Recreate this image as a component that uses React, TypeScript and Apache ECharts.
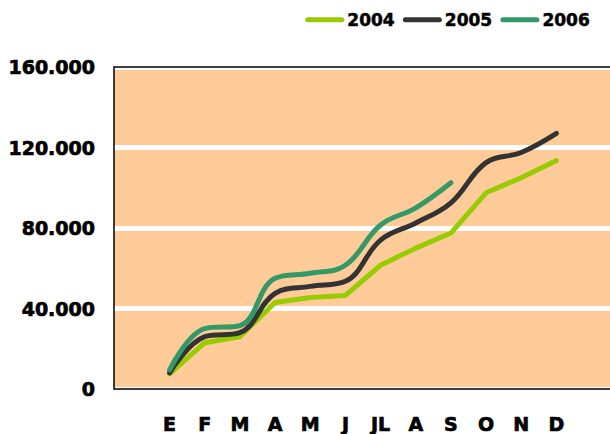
import React, { useEffect, useRef } from "react";
import * as echarts from "echarts";

const months = ["E", "F", "M", "A", "M", "J", "JL", "A", "S", "O", "N", "D"];
const s2004 = [7500, 23000, 26000, 43000, 45500, 46500, 61500, 70000, 77500, 97500, 105000, 113500];
const s2005 = [8000, 26000, 28000, 47500, 51000, 53500, 74000, 82500, 92500, 112500, 117500, 127000];
const s2006 = [9500, 30000, 31500, 55000, 57500, 61500, 81500, 90000, 102500];
const yTicks = [0, 40000, 80000, 120000, 160000];

const FONT = "DejaVu Sans";

function fmt(v: number): string {
  if (v === 0) return "0";
  const s = String(Math.round(v));
  return s.replace(/\B(?=(\d{3})+(?!\d))/g, ".");
}

export default function App() {
  const ref = useRef<HTMLDivElement>(null);
  useEffect(() => {
    if (!ref.current) return;
    const chart = echarts.init(ref.current, undefined, { renderer: "svg" });
    const capsule = "path://M2.5,0 H36.5 A2.5,2.5 0 0 1 36.5,5 H2.5 A2.5,2.5 0 0 1 2.5,0 Z";
    const heavy = { textBorderColor: "#000", textBorderWidth: 0.7 };
    const mkSeries = (name: string, data: number[], color: string, smooth: number | boolean) => ({
      name,
      type: "line",
      xAxisIndex: 1,
      yAxisIndex: 1,
      data,
      smooth,
      showSymbol: false,
      symbol: "none",
      lineStyle: { color, width: 5, cap: "round", join: "round" },
      itemStyle: { color },
    });
    chart.setOption({
      animation: false,
      backgroundColor: "#ffffff",
      legend: {
        top: 6,
        right: 15,
        itemWidth: 39,
        itemHeight: 5,
        itemGap: 8,
        icon: capsule,
        textStyle: {
          fontFamily: FONT,
          fontWeight: "bold",
          fontSize: 17,
          color: "#000",
          padding: [7, 0, 0, -2],
          ...heavy,
          textBorderWidth: 0.5,
        },
        data: ["2004", "2005", "2006"],
      },
      grid: [
        { left: 114, top: 67, right: -10, bottom: 45, show: true, backgroundColor: "#FFCC99", borderWidth: 0 },
        { left: 152, top: 67, right: 36, bottom: 45 },
      ],
      xAxis: [
        { type: "value", gridIndex: 0, show: false, min: 0, max: 1 },
        {
          type: "category",
          gridIndex: 1,
          data: months,
          boundaryGap: true,
          axisLine: { show: false },
          axisTick: { show: false },
          axisLabel: { fontFamily: FONT, fontWeight: "bold", fontSize: 19, color: "#000", margin: 25, interval: 0, ...heavy },
        },
      ],
      yAxis: [
        {
          type: "value",
          gridIndex: 0,
          min: 0,
          max: 160000,
          interval: 40000,
          axisLine: { show: false },
          axisTick: { show: false },
          splitLine: { show: true, lineStyle: { color: "#ffffff", width: 5 } },
          axisLabel: {
            fontFamily: FONT,
            fontWeight: "bold",
            fontSize: 19,
            color: "#000",
            margin: 19,
            ...heavy,
            formatter: (v: number) => (yTicks.includes(v) ? fmt(v) : ""),
          },
        },
        { type: "value", gridIndex: 1, min: 0, max: 160000, show: false },
      ],
      graphic: [
        {
          type: "rect",
          shape: { x: 114, y: 67, width: 520, height: 322 },
          style: { fill: "none", stroke: "#000", lineWidth: 1.5 },
          z: 100,
          silent: true,
        },
      ],
      series: [
        mkSeries("2004", s2004, "#99CC00", false),
        mkSeries("2005", s2005, "#333333", 0.4),
        mkSeries("2006", s2006, "#339966", 0.4),
      ],
    });
    return () => chart.dispose();
  }, []);
  return <div ref={ref} style={{ width: 610, height: 434, position: "absolute", left: 0, top: 0 }} />;
}
